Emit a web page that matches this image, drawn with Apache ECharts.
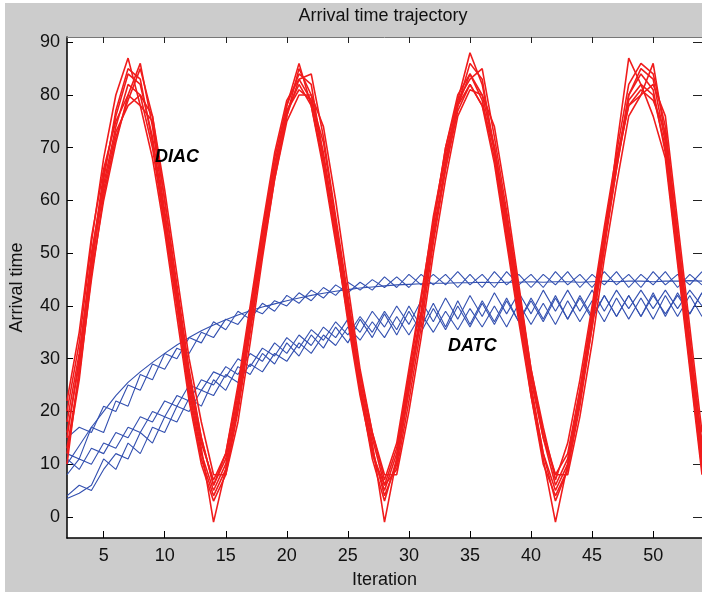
<!DOCTYPE html>
<html>
<head>
<meta charset="utf-8">
<script src="https://cdn.jsdelivr.net/npm/echarts@6/dist/echarts.min.js"></script>
<style>html,body{margin:0;padding:0;background:#fff;}#c{width:702px;height:594px;}</style>
</head>
<body>
<div id="c"></div>
<script>
const iterations = [2,3,4,5,6,7,8,9,10,11,12,13,14,15,16,17,18,19,20,21,22,23,24,25,26,27,28,29,30,31,32,33,34,35,36,37,38,39,40,41,42,43,44,45,46,47,48,49,50,51,52,53,54];
const xTicks = [5,10,15,20,25,30,35,40,45,50];
const yTicks = [0,10,20,30,40,50,60,70,80,90];

// DIAC runs (red)
const diac1 = [15,30,50,63,74,82,80,70,55,40, 24,12,5,10,22,37,52,66,77,82, 78,67,53,38,24,12,5,12,26,39, 56,68,78,84,79,68,53,38,24,12, 5,10,22,37,52,66,79,82,80,70, 50,30,10];
const diac2 = [20,33,52,68,80,87,78,68,54,38, 22,10,3,8,20,35,50,64,76,85, 80,69,55,40,25,13,4,10,24,38, 54,67,79,88,82,70,55,40,25,12, 3,9,21,36,51,70,87,82,76,68, 48,28,8];
const diac3 = [12,26,46,60,71,80,86,74,58,42, 26,14,7,12,24,39,54,68,78,86, 78,66,52,38,24,11,3,11,24,38, 55,70,80,84,80,70,56,41,26,15, 8,12,24,39,54,68,78,80,86,72, 52,32,12];
const diac4 = [18,31,48,62,73,78,80,76,62,46, 30,18,8,8,18,33,49,64,75,80, 80,74,60,44,28,16,8,8,20,34, 50,64,76,81,80,74,60,44,28,16, 8,8,19,33,49,63,76,80,82,76, 56,36,16];
const diac5 = [10,28,49,65,76,84,82,72,57,41, 25,13,-1,9,21,36,51,65,76,83, 79,68,54,39,25,14,-1,11,25,38, 53,66,77,82,78,67,52,37,23,11, -1,10,23,38,53,67,80,84,81,69, 49,29,9];
const diac6 = [22,35,53,66,75,80,78,75,60,44, 28,15,6,11,23,38,53,67,77,81, 79,71,56,41,26,15,6,13,27,41, 57,69,78,82,78,70,57,42,27,15, 6,11,24,38,53,67,78,81,79,73, 53,33,13];
const diac7 = [16,29,47,64,77,85,83,71,56,40, 23,11,4,9,21,36,52,66,78,84, 82,68,53,37,23,12,6,9,22,36, 52,66,78,86,83,69,54,39,23,10, 4,9,22,36,51,66,80,85,83,71, 51,31,11];
const diac8 = [13,27,45,61,72,79,85,76,60,43, 27,15,6,12,25,40,55,69,79,83, 84,72,57,42,27,16,7,14,28,42, 56,70,79,83,85,72,58,43,28,17, 7,14,26,40,55,69,82,86,84,74, 54,34,14];

// DATC runs (blue)
const datc1 = [10,13.5,17,20,23,25.5,27.5,29.3,31,32.6, 34,35.3,36.4,37.4,38.3,39.1,39.8,40.4,41,41.5, 42,42.4,42.8,43.1,43.4,43.6,43.8,44,44.1,44.2, 44.3,44.3,44.4,44.4,44.5,44.4,44.5,44.5,44.6,44.5, 44.6,44.6,44.5,44.6,44.7,44.6,44.7,44.7,44.6,44.7, 44.7,44.8,44.7];
const datc2 = [12,11,17,16,22,21,27,26,31,30, 34,33,37,35.5,39,37.5,40.5,39,42,40.5, 43,41.5,44,42.5,44.5,43,45.5,43.5,46,44, 46,44,46.5,44,46,43.5,46.5,44,46,43.5, 46.5,44,46,43.5,46.5,44,46,43.5,46.5,44, 46,44,46.5];
const datc3 = [15,17,16,21,20,25,24,29,28,32, 31,35,34,37.5,36.5,39.5,38.5,41,40,42.5, 41,43.5,42,44.5,43,45,43.5,45.5,43.5,46, 44,46,43.5,46,43.5,46.5,44,46,43.5,46, 44,46.5,43.5,46,44,46.5,43.5,46,44,46.5, 43.5,46,44];
const datc4 = [3.5,4.5,6,11,9,14,12,17,16,21, 20,24,23,27,25.5,29,27.5,31,29.5,33, 31,34.5,32.5,36,33.5,37,34,38,34.5,38.5, 35,39,35.5,39.5,36,40,36,40.5,36.5,40.5, 36.5,41,37,41,37,41.5,37.5,41.5,37.5,42, 38,42,38];
const datc5 = [4,6,5,9,12,11,16,14,19,18, 22.5,21,26,24,28.5,27,31,29,33,30.5, 34.5,32,36,33,37.5,34,38.5,34.5,39,35, 39.5,35.5,40,36,40.5,36.5,41,37,41,37, 41.5,37.5,41.5,37.5,42,38,42,38,42,38.5, 42,38.5,42.5];
const datc6 = [8,11,10,14,13,17,16,20,19,23, 22,26,25,28.5,27,31,29.5,33,31,34.5, 32.5,36,34,37.5,35,39,36,40,36.5,41, 37,41.5,37.5,42,38,42.5,38.5,42.5,38.5,43, 39,43,39,43,39,43,39.5,43,39.5,43, 39.5,43,40];
const datc7 = [11,9,13,12,16,15,19,18,22,21, 25,24,27.5,26.5,30,28.5,32,30.5,34,32, 35.5,33.5,37,34.5,38,35,39,35.5,40,36, 40.5,36,41,36.5,41,37,41.5,37,41.5,37.5, 42,37.5,42,38,42,38,42,38,42.5,38, 42.5,38.5,42.5];

const diacRuns = [diac1,diac2,diac3,diac4,diac5,diac6,diac7,diac8];
const datcRuns = [datc1,datc2,datc3,datc4,datc5,datc6,datc7];

const FONT = '"Liberation Sans", Arial, sans-serif';
const RED = '#f01c1c';
const BLUE = '#3350b0';

function mk(arr, color, w) {
  return {
    type: 'line',
    data: iterations.map((x, i) => [x, arr[i]]),
    symbol: 'none',
    silent: true,
    lineStyle: { color: color, width: w },
    clip: true
  };
}

const series = [];
datcRuns.forEach(a => series.push(mk(a, BLUE, 1.1)));
diacRuns.forEach(a => series.push(mk(a, RED, 1.6)));

const chart = echarts.init(document.getElementById('c'), null, { renderer: 'canvas' });
chart.setOption({
  animation: false,
  backgroundColor: '#ffffff',
  grid: { left: 66, top: 37, width: 641, height: 505, show: true, backgroundColor: '#ffffff', borderWidth: 0 },
  graphic: [
    { type: 'rect', z: -10, silent: true, shape: { x: 5, y: 3, width: 697, height: 589 }, style: { fill: '#cccccc' } },
    { type: 'text', x: 383, y: 16, z: 10, silent: true, style: { text: 'Arrival time trajectory', textAlign: 'center', textVerticalAlign: 'middle', font: '18px ' + FONT, fill: '#111' } },
    { type: 'text', x: 155, y: 157, z: 10, silent: true, style: { text: 'DIAC', textAlign: 'left', textVerticalAlign: 'middle', font: 'italic bold 18px ' + FONT, fill: '#000' } },
    { type: 'text', x: 448, y: 346, z: 10, silent: true, style: { text: 'DATC', textAlign: 'left', textVerticalAlign: 'middle', font: 'italic bold 18px ' + FONT, fill: '#000' } }
  ],
  xAxis: [
    {
      type: 'value', min: 2, max: 54, position: 'bottom',
      name: 'Iteration', nameLocation: 'middle', nameGap: 33,
      nameTextStyle: { fontSize: 18, fontFamily: FONT, color: '#111' },
      axisLine: { show: true, onZero: false, lineStyle: { color: '#000', width: 1.5 } },
      axisTick: { show: true, inside: true, length: 7, customValues: xTicks, lineStyle: { color: '#000' } },
      axisLabel: { customValues: xTicks, fontSize: 18, fontFamily: FONT, color: '#111', margin: 9 },
      splitLine: { show: false }
    },
    {
      type: 'value', min: 2, max: 54, position: 'top',
      axisLine: { show: true, onZero: false, lineStyle: { color: '#777', width: 1 } },
      axisTick: { show: true, inside: true, length: 6, customValues: xTicks, lineStyle: { color: '#222' } },
      axisLabel: { show: false },
      splitLine: { show: false }
    }
  ],
  yAxis: [
    {
      type: 'value', min: -4, max: 91, position: 'left',
      name: 'Arrival time', nameLocation: 'middle', nameGap: 41,
      nameTextStyle: { fontSize: 18, fontFamily: FONT, color: '#111' },
      axisLine: { show: true, onZero: false, lineStyle: { color: '#000', width: 1.5 } },
      axisTick: { show: true, inside: true, length: 6, customValues: yTicks, lineStyle: { color: '#000' } },
      axisLabel: { customValues: yTicks, fontSize: 18, fontFamily: FONT, color: '#111', margin: 7 },
      splitLine: { show: false }
    },
    {
      type: 'value', min: -4, max: 91, position: 'right',
      axisLine: { show: true, onZero: false, lineStyle: { color: '#888', width: 1 } },
      axisTick: { show: true, inside: true, length: 9, customValues: yTicks, lineStyle: { color: '#222' } },
      axisLabel: { show: false },
      splitLine: { show: false }
    }
  ],
  series: series
});
</script>
</body>
</html>
